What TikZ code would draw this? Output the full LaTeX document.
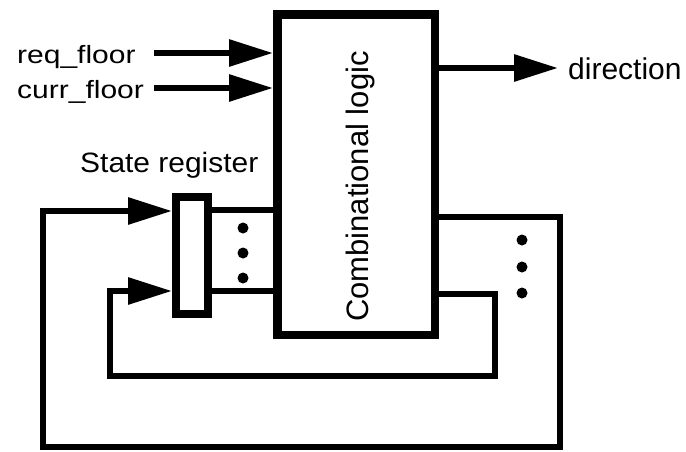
\documentclass[tikz,border=0pt]{standalone}
\usepackage{fontspec}
\setmainfont{Liberation Sans}
\usetikzlibrary{arrows.meta}
\begin{document}
\begin{tikzpicture}[x=1pt,y=-1pt,
  wire/.style={line width=6pt},
  sig/.style={wire,-{Triangle[length=44pt,width=26pt]}},
  blk/.style={draw,line width=8.5pt,inner sep=0pt},
  lbl/.style={inner sep=0pt,font=\fontsize{25}{30}\selectfont},
  dot/.style={circle,fill,inner sep=0pt,minimum size=11pt}]
\useasboundingbox (0,0) rectangle (686,451);
% blocks
\node[blk,minimum width=157.5pt,minimum height=320.5pt] (comb) at (356,174.5) {};
\node[lbl,rotate=90,anchor=base west,font=\fontsize{31}{36}\selectfont] (combtxt) at (368,322) {Combinational logic};
\node[blk,line width=8pt,minimum width=32pt,minimum height=117pt] (reg) at (192,255.5) {};
\node[lbl,anchor=base west,font=\fontsize{28}{32}\selectfont] (regtxt) at (80,172) {\scalebox{1.07}[1]{State register}};
% inputs
\node[lbl,anchor=base west] (req) at (17,63) {\scalebox{1.2}[1]{req\_floor}};
\node[lbl,anchor=base west] (curr) at (17,98) {\scalebox{1.2}[1]{curr\_floor}};
\coordinate (reqin) at (154,53);
\coordinate (currin) at (154,88);
\draw[sig] (reqin) -- (reqin -| comb.west);
\draw[sig] (currin) -- (currin -| comb.west);
% output
\node[lbl,anchor=base west,font=\fontsize{30}{34}\selectfont] (dir) at (568,79) {direction};
\coordinate (dirout) at (558,68);
\draw[sig] (comb.east |- dirout) -- (dirout);
% register to logic
\draw[wire] (reg.east |- 0,210) -- (comb.west |- 0,210);
\draw[wire] (reg.east |- 0,291) -- (comb.west |- 0,291);
\foreach \yy in {228,253,278} \node[dot] (ld\yy) at (243,\yy) {};
% feedback loops
\draw[sig] (comb.east |- 0,217) -| (560,447) -| (43,211) -- (reg.west |- 0,211);
\draw[sig] (comb.east |- 0,294) -| (495,376) -| (110,291) -- (reg.west |- 0,291);
\foreach \yy in {240,267,293} \node[dot] (rd\yy) at (522,\yy) {};
\end{tikzpicture}
\end{document}
